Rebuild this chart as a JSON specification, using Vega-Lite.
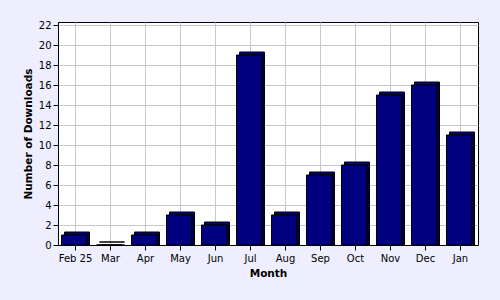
{
  "$schema": "https://vega.github.io/schema/vega-lite/v6.json",
  "width": 420,
  "height": 223,
  "autosize": {"type": "none"},
  "padding": {"left": 58, "top": 22, "right": 22, "bottom": 55},
  "background": "#eeeeff",
  "data": {
    "values": [
      {"month": "Feb 25", "downloads": 1},
      {"month": "Mar", "downloads": 0},
      {"month": "Apr", "downloads": 1},
      {"month": "May", "downloads": 3},
      {"month": "Jun", "downloads": 2},
      {"month": "Jul", "downloads": 19},
      {"month": "Aug", "downloads": 3},
      {"month": "Sep", "downloads": 7},
      {"month": "Oct", "downloads": 8},
      {"month": "Nov", "downloads": 15},
      {"month": "Dec", "downloads": 16},
      {"month": "Jan", "downloads": 11}
    ]
  },
  "encoding": {
    "x": {
      "field": "month",
      "type": "nominal",
      "sort": null,
      "title": "Month",
      "scale": {"paddingInner": 0.2857, "paddingOuter": 0.1429},
      "axis": {"labelAngle": 0, "grid": true, "tickSize": 5, "labelPadding": 3, "titlePadding": 5}
    },
    "y": {
      "field": "downloads",
      "type": "quantitative",
      "title": "Number of Downloads",
      "scale": {"domain": [0, 22.3], "nice": false, "zero": true},
      "axis": {
        "values": [0, 2, 4, 6, 8, 10, 12, 14, 16, 18, 20, 22],
        "grid": true,
        "tickSize": 5,
        "labelPadding": 2,
        "titlePadding": 5
      }
    }
  },
  "layer": [
    {"mark": {"type": "bar", "xOffset": 1.5, "yOffset": -3, "fill": "#000080", "stroke": "#000000", "strokeWidth": 1}},
    {"mark": {"type": "bar", "xOffset": 1.5, "fill": "#000040", "stroke": "#000000", "strokeWidth": 1}},
    {"mark": {"type": "bar", "xOffset": -1.5, "fill": "#000080", "stroke": "#000000", "strokeWidth": 1}}
  ],
  "config": {
    "view": {"stroke": "#000000", "strokeWidth": 1, "fill": "#ffffff"},
    "axis": {
      "labelFont": "DejaVu Sans",
      "labelFontSize": 10,
      "labelColor": "#000000",
      "titleFont": "DejaVu Sans",
      "titleFontSize": 10.5,
      "titleFontWeight": "bold",
      "titleColor": "#000000",
      "domainColor": "#000000",
      "tickColor": "#000000",
      "gridColor": "#c8c8c8",
      "gridOpacity": 1
    }
  }
}
